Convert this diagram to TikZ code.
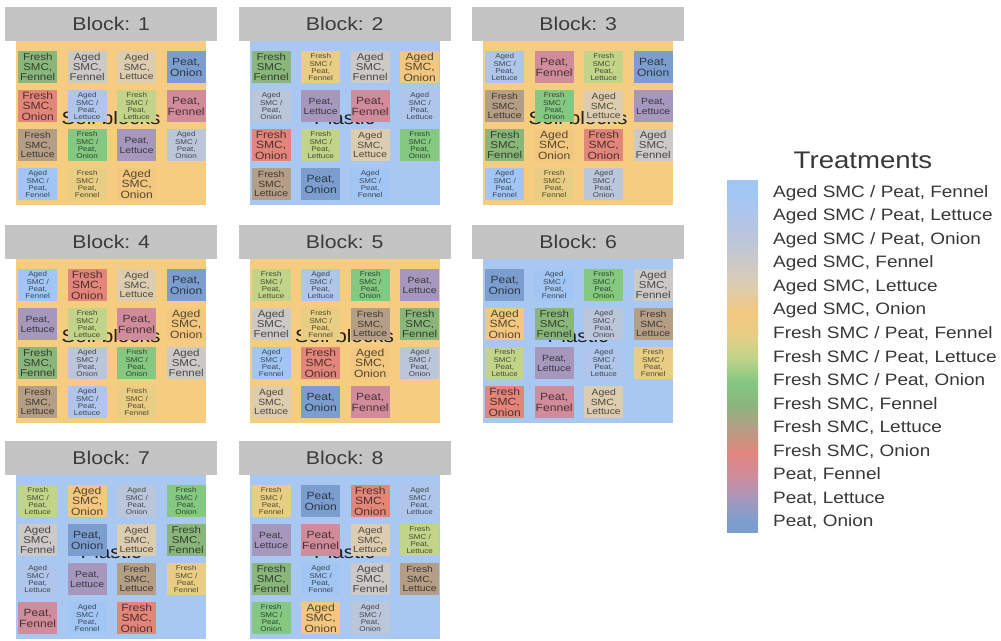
\documentclass[tikz,border=0pt]{standalone}
\usepackage{fontspec}
\setmainfont{Liberation Sans}[FakeStretch=1.15]
\definecolor{cAF}{HTML}{A2C6F4}
\definecolor{cAL}{HTML}{AFC6EA}
\definecolor{cAO}{HTML}{BCC6DA}
\definecolor{cSF}{HTML}{CCCAC6}
\definecolor{cSL}{HTML}{DCCDB0}
\definecolor{cSO}{HTML}{F2C880}
\definecolor{cFF}{HTML}{E8CE84}
\definecolor{cFL}{HTML}{C2D48A}
\definecolor{cFO}{HTML}{84C882}
\definecolor{cEF}{HTML}{8AB67C}
\definecolor{cEL}{HTML}{B59E86}
\definecolor{cEO}{HTML}{E2867C}
\definecolor{cPF}{HTML}{D08C9A}
\definecolor{cPL}{HTML}{A698BC}
\definecolor{cPO}{HTML}{7C9ECE}
\definecolor{soil}{HTML}{F5CC80}
\definecolor{plastic}{HTML}{A8C8F2}
\definecolor{hdrgrey}{HTML}{C4C4C4}
\definecolor{hdrtext}{HTML}{3C3C3C}
\definecolor{legtext}{HTML}{383838}
% labels
\newcommand\lblAF{Aged\\SMC /\\Peat,\\Fennel}
\newcommand\lblAL{Aged\\SMC /\\Peat,\\Lettuce}
\newcommand\lblAO{Aged\\SMC /\\Peat,\\Onion}
\newcommand\lblSF{Aged\\SMC,\\Fennel}
\newcommand\lblSL{Aged\\SMC,\\Lettuce}
\newcommand\lblSO{Aged\\SMC,\\Onion}
\newcommand\lblFF{Fresh\\SMC /\\Peat,\\Fennel}
\newcommand\lblFL{Fresh\\SMC /\\Peat,\\Lettuce}
\newcommand\lblFO{Fresh\\SMC /\\Peat,\\Onion}
\newcommand\lblEF{Fresh\\SMC,\\Fennel}
\newcommand\lblEL{Fresh\\SMC,\\Lettuce}
\newcommand\lblEO{Fresh\\SMC,\\Onion}
\newcommand\lblPF{Peat,\\Fennel}
\newcommand\lblPL{Peat,\\Lettuce}
\newcommand\lblPO{Peat,\\Onion}
% font sizes
\newcommand\fntAF{\fontsize{7}{7.4}\selectfont}
\newcommand\fntAL{\fontsize{7}{7.4}\selectfont}
\newcommand\fntAO{\fontsize{7}{7.4}\selectfont}
\newcommand\fntFF{\fontsize{7}{7.4}\selectfont}
\newcommand\fntFL{\fontsize{7}{7.4}\selectfont}
\newcommand\fntFO{\fontsize{7}{7.4}\selectfont}
\newcommand\fntSF{\fontsize{10}{10}\selectfont}
\newcommand\fntSL{\fontsize{9}{9.5}\selectfont}
\newcommand\fntSO{\fontsize{10.5}{10.5}\selectfont}
\newcommand\fntEF{\fontsize{10}{10}\selectfont}
\newcommand\fntEL{\fontsize{9}{9.5}\selectfont}
\newcommand\fntEO{\fontsize{10.5}{10.5}\selectfont}
\newcommand\fntPF{\fontsize{10.5}{11}\selectfont}
\newcommand\fntPL{\fontsize{9}{10}\selectfont}
\newcommand\fntPO{\fontsize{10.5}{11}\selectfont}
\tikzset{
  tile/.style={fill=c#1, text=c#1!35!black, font=\csname fnt#1\endcsname,
    minimum width=39pt, minimum height=32pt, inner sep=0pt, align=center, anchor=north west},
  hdrbox/.style={fill=hdrgrey, text=hdrtext, font=\fontsize{18.5}{20}\selectfont,
    minimum width=212pt, minimum height=34pt, inner sep=0pt, anchor=north west},
  bgbox/.style={minimum width=190pt, minimum height=164pt, inner sep=0pt, anchor=north west},
  bigtxt/.style={text=black!88, font=\fontsize{18}{20}\selectfont, anchor=base, inner sep=0pt},
  legtitle/.style={text=legtext, font=\fontsize{24}{26}\selectfont, inner sep=0pt},
  legentry/.style={text=legtext, font=\fontsize{16.5}{18}\selectfont, anchor=west, inner sep=0pt}
}
\newcommand\drawblock[6]{%
  \node[hdrbox] (hdr#1) at (#2,#3) {Block: #1};
  \node[bgbox, fill=#4] (bg#1) at (#2+11,#3+34) {};
  \node[bigtxt] (mat#1) at (#2+106,#3+117) {#5};
  \foreach \code [count=\i from 0] in {#6} {
    \pgfmathtruncatemacro\rr{int(\i/4)}
    \pgfmathtruncatemacro\cc{mod(\i,4)}
    \node[tile=\code] (b#1t\i) at ({#2+13+\cc*49.5},{#3+44+\rr*39}) {\csname lbl\code\endcsname};
  }
}
\begin{document}
\begin{tikzpicture}[x=1pt,y=-1pt]
\useasboundingbox[fill=white] (0,0) rectangle (1001,640);
\drawblock{1}{5}{7}{soil}{Soil blocks}{EF,SF,SL,PO,EO,AL,FL,PF,EL,FO,PL,AO,AF,FF,SO}
\drawblock{2}{238.5}{7}{plastic}{Plastic}{EF,FF,SF,SO,AO,PL,PF,AL,EO,FL,SL,FO,EL,PO,AF}
\drawblock{3}{472}{7}{soil}{Soil blocks}{AL,PF,FL,PO,EL,FO,SL,PL,EF,SO,EO,SF,AF,FF,AO}
\drawblock{4}{5}{225}{soil}{Soil blocks}{AF,EO,SL,PO,PL,FL,PF,SO,EF,AO,FO,SF,EL,AL,FF}
\drawblock{5}{238.5}{225}{soil}{Soil blocks}{FL,AL,FO,PL,SF,FF,EL,EF,AF,EO,SO,AO,SL,PO,PF}
\drawblock{6}{472}{225}{plastic}{Plastic}{PO,AF,FO,SF,SO,EF,AO,EL,FL,PL,AL,FF,EO,PF,SL}
\drawblock{7}{5}{441}{plastic}{Plastic}{FL,SO,AO,FO,SF,PO,SL,EF,AL,PL,EL,FF,PF,AF,EO}
\drawblock{8}{238.5}{441}{plastic}{Plastic}{FF,PO,EO,AL,PL,PF,SL,FL,EF,AF,SF,EL,FO,SO,AO}
% legend
\node[legtitle] (legT) at (863,160) {Treatments};
\fill[cAF] (727,180) rectangle (758,193.5);
\fill[cPO] (727,521.5) rectangle (758,533);
\foreach \ca/\cb [count=\k from 0] in {AF/AL,AL/AO,AO/SF,SF/SL,SL/SO,SO/FF,FF/FL,FL/FO,FO/EF,EF/EL,EL/EO,EO/PF,PF/PL,PL/PO} {
  \shade[top color=c\ca, bottom color=c\cb] (727,{193+23.5*\k-0.3}) rectangle (758,{193+23.5*(\k+1)+0.3});
}
\foreach \txt [count=\k from 0] in {{Aged SMC / Peat, Fennel},{Aged SMC / Peat, Lettuce},{Aged SMC / Peat, Onion},{Aged SMC, Fennel},{Aged SMC, Lettuce},{Aged SMC, Onion},{Fresh SMC / Peat, Fennel},{Fresh SMC / Peat, Lettuce},{Fresh SMC / Peat, Onion},{Fresh SMC, Fennel},{Fresh SMC, Lettuce},{Fresh SMC, Onion},{Peat, Fennel},{Peat, Lettuce},{Peat, Onion}} {
  \node[legentry] (leg\k) at (773,{193+23.5*\k}) {\txt};
}
\end{tikzpicture}
\end{document}
